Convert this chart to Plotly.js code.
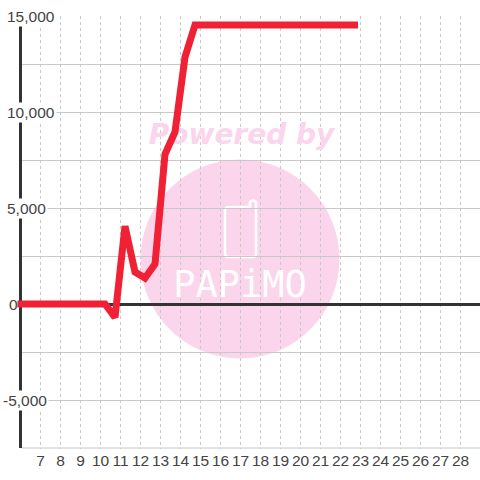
<!DOCTYPE html>
<html><head><meta charset="utf-8">
<script src="https://cdn.plot.ly/plotly-3.0.1.min.js"></script>
<style>html,body{margin:0;padding:0;background:#fff}#c{width:480px;height:480px}</style>
</head><body><div id="c"></div>
<script>
const days = [5.85,10.225,10.725,11.225,11.725,12.225,12.725,13.225,13.725,14.225,14.725,22.875];
const values = [0,0,-700,4050,1670,1350,2080,7800,8960,12860,14530,14530];
const dayTicks = [7,8,9,10,11,12,13,14,15,16,17,18,19,20,21,22,23,24,25,26,27,28];
const valueTicks = [15000,10000,5000,0,-5000];
const valueLabels = ['15,000','10,000','5,000','0','-5,000'];
const labelLeftPx = [6,6,6,8,2];
const L=17,R=480,T=16,B=449;
const px=x=>(x-L)/(R-L), py=y=>(B-y)/(B-T);
const FONT='"Liberation Sans", Arial, sans-serif';
const dx=p=>7+(p-40.5)/20, dy=p=>(304-p)/19.2*1000;
const xr=[dx(L),dx(R)], yr=[dy(B),15000];
const traces=[
 {x:[dx(241.5)],y:[dy(137)],mode:'text',text:['Powered by'],textposition:'middle center',cliponaxis:false,showlegend:false,hoverinfo:'skip',
  textfont:{family:'"DejaVu Sans"',size:28,color:'#fbd5ec',weight:'bold',style:'italic'}},
 {x:[dx(240)],y:[dy(288)],mode:'text',text:['PAPiMO'],textposition:'middle center',cliponaxis:false,showlegend:false,hoverinfo:'skip',
  textfont:{family:'"DejaVu Sans Mono"',size:37,color:'#ffffff'}},
 {x:days,y:values,mode:'lines',line:{color:'#f02035',width:7,shape:'linear'},cliponaxis:false,showlegend:false,hoverinfo:'skip'}
];
const layout={
 width:480,height:480,margin:{l:L,r:480-R,t:T,b:480-B,pad:0},
 paper_bgcolor:'#fff',plot_bgcolor:'rgba(0,0,0,0)',showlegend:false,
 xaxis:{range:xr,tickmode:'array',tickvals:dayTicks,ticktext:dayTicks.map(String),ticks:'',showline:false,zeroline:false,
  showgrid:true,gridcolor:'#c8c8c8',griddash:'3px,3px',gridwidth:1,tickfont:{family:FONT,size:15.5,color:'#444'}},
 yaxis:{range:yr,tickmode:'linear',dtick:2500,tick0:0,showticklabels:false,ticks:'',showline:false,
  showgrid:true,gridcolor:'#c8c8c8',gridwidth:1,zeroline:true,zerolinecolor:'#333',zerolinewidth:3},
 shapes:[
  {type:'circle',xref:'paper',yref:'paper',layer:'below',x0:px(140.5),x1:px(339.5),y0:py(358.5),y1:py(159.5),fillcolor:'#fbd5ec',line:{width:0}},
  {type:'path',xref:'paper',yref:'paper',layer:'below',
   path:`M ${px(230)} ${py(207)} L ${px(250)} ${py(207)} L ${px(250)} ${py(202)} Q ${px(253)} ${py(199)} ${px(256)} ${py(202)} L ${px(256)} ${py(254)} Q ${px(256)} ${py(257)} ${px(253)} ${py(257)} L ${px(228)} ${py(257)} Q ${px(225)} ${py(257)} ${px(225)} ${py(254)} L ${px(225)} ${py(210)} Q ${px(225)} ${py(207)} ${px(230)} ${py(207)} Z`,
   fillcolor:'rgba(0,0,0,0)',line:{color:'#ffffff',width:2.5}},
  {type:'rect',xref:'x',yref:'y',layer:'between',x0:dx(16),x1:dx(19.5),y0:yr[0],y1:yr[1],fillcolor:'#ffffff',line:{width:0}},
  {type:'rect',xref:'x',yref:'y',layer:'between',x0:dx(19),x1:dx(22),y0:dy(448),y1:yr[1],fillcolor:'#333333',line:{width:0}},
  {type:'rect',xref:'x',yref:'y',layer:'between',x0:dx(22),x1:dx(R),y0:dy(448.5),y1:dy(447.5),fillcolor:'#c8c8c8',line:{width:0}}
 ],
 annotations:valueTicks.map((v,i)=>({xref:'paper',yref:'y',x:px(labelLeftPx[i]-1),y:v,xanchor:'left',yanchor:'middle',showarrow:false,text:valueLabels[i],
  font:{family:FONT,size:15.5,color:'#444'},bgcolor:v===0?'rgba(0,0,0,0)':'#fff',borderpad:1}))
};
Plotly.newPlot('c',traces,layout,{staticPlot:true,displayModeBar:false});
</script></body></html>
